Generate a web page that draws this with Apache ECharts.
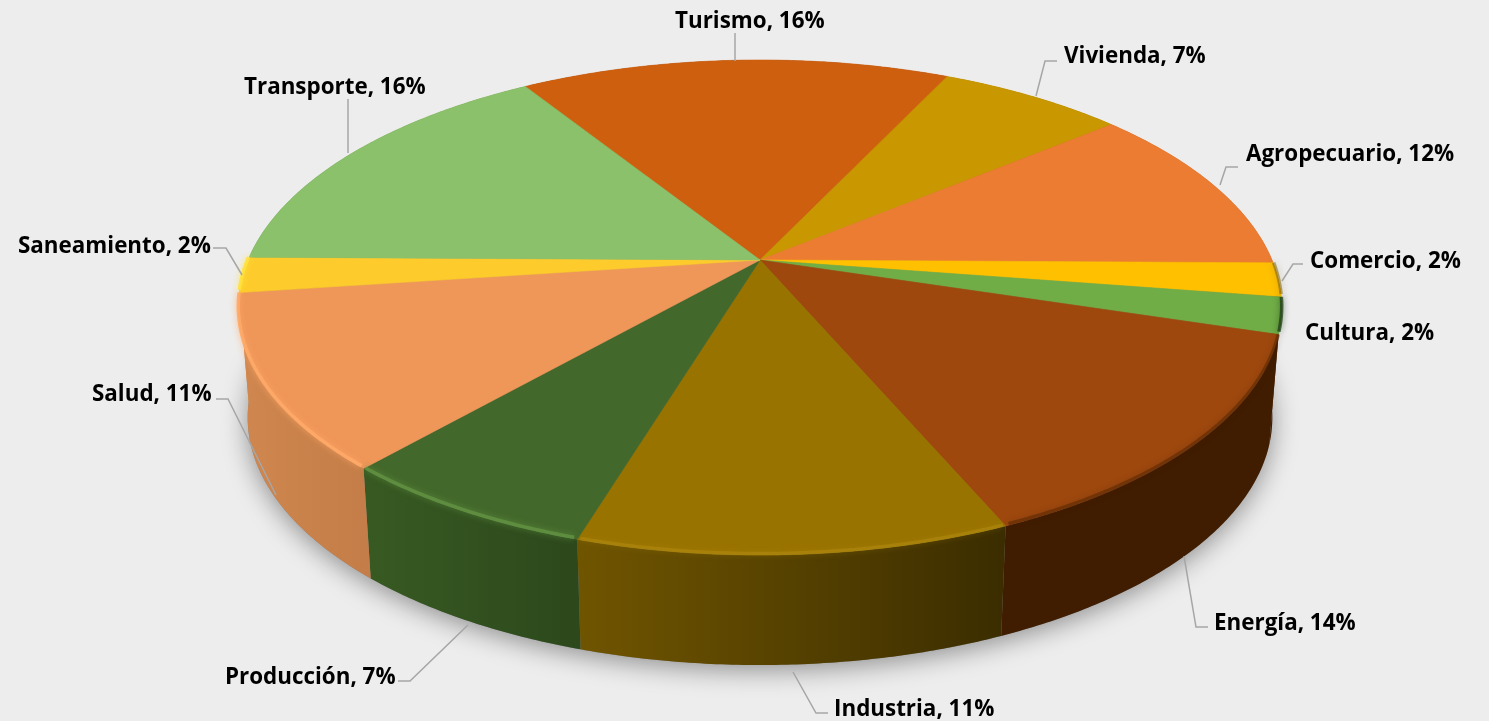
<!DOCTYPE html>
<html lang="es">
<head>
    <meta charset="utf-8">
    <title>ECharts</title>
    <script src="https://cdn.jsdelivr.net/npm/echarts@6/dist/echarts.min.js"></script>
    <style>
        html, body { margin: 0; padding: 0; background: #ededed; }
    </style>
</head>
<body>
<div id="main" style="width: 1489px;height:721px;"></div>
<script type="text/javascript">
    // datos, en sentido horario desde Turismo
    var categories = ['Turismo', 'Vivienda', 'Agropecuario', 'Comercio', 'Cultura', 'Energía', 'Industria', 'Producción', 'Salud', 'Saneamiento', 'Transporte'];
    // porcentaje que se lee en cada etiqueta
    var labelValues = [16, 7, 12, 2, 2, 14, 11, 7, 11, 2, 16];
    // porcentaje sin redondear, estimado del tamaño de cada porción
    var values = [16.0, 6.94, 11.19, 2.22, 2.36, 13.77, 11.17, 6.83, 11.34, 2.31, 15.87];

    // colores
    var topColors = ['#ce5f0f', '#c99700', '#eb7c32', '#ffc000', '#70ad47', '#9e480e', '#997300', '#43682b', '#ef9659', '#fdcc2c', '#8bc16a'];
    var sideLeft = ['#8a3f0a', '#886600', '#a05420', '#401c00', '#401c00', '#401c00', '#705500', '#385a22', '#d0874f', '#d0874f', '#5f8548'];
    var sideRight = ['#8a3f0a', '#886600', '#a05420', '#401c00', '#401c00', '#401c00', '#3b2d00', '#2c481c', '#c47d48', '#d0874f', '#5f8548'];
    var rimColors = [null, null, null, 'rgba(120,90,0,0.5)', 'rgba(30,60,20,0.75)', 'rgba(70,30,0,0.45)', 'rgba(176,138,16,0.55)', 'rgba(98,146,66,0.85)', 'rgba(255,170,105,0.9)', 'rgba(255,225,60,0.9)', null];

    // etiquetas y sus guías
    var labelPos = [[675, 21.5], [1064, 56.5], [1246, 154.5], [1310, 261.5], [1305, 333.5], [1214, 623.5], [834, 709.5], [225, 677.5], [92, 394.5], [18, 246.5], [244, 87.5]];
    var leaders = [
        [[735, 33], [735, 61]],
        [[1057, 61], [1045, 61], [1036, 96]],
        [[1238, 167], [1226, 167], [1220, 185]],
        [[1303, 264], [1293, 264], [1282, 281]],
        null,
        [[1208, 627], [1196, 627], [1184, 556]],
        [[828, 713], [816, 713], [793, 672]],
        [[398, 681], [410, 681], [468, 625]],
        [[216, 399], [228, 399], [276, 495]],
        [[213, 248], [226, 248], [242, 275]],
        [[348, 99], [348, 153]]
    ];

    // geometría de la perspectiva
    var cx = 760, cy = 260, ax = 512, ay = 238.4, persp = 0.192;
    var startAngle = -32.2, depth = 110, bottomScale = 0.982;

    function project(deg, bottom) {
        var r = deg * Math.PI / 180;
        var s = 1 / (1 + persp * Math.cos(r));
        var x = ax * Math.sin(r) * s;
        var y = -ay * Math.cos(r) * s;
        if (bottom) {
            return [cx + x * bottomScale, cy + y + depth];
        }
        return [cx + x, cy + y];
    }

    function rimPoints(a0, a1, bottom) {
        var pts = [];
        var n = Math.max(2, Math.ceil(Math.abs(a1 - a0) * 2));
        for (var i = 0; i <= n; i++) {
            pts.push(project(a0 + (a1 - a0) * i / n, bottom));
        }
        return pts;
    }

    // [inicio, fin] de cada porción
    var total = values.reduce(function (a, b) { return a + b; }, 0);
    var acc = startAngle;
    var sliceData = values.map(function (v, i) {
        var a0 = acc;
        acc += v / total * 360;
        return [a0, acc, i];
    });

    function renderShadow() {
        return {
            type: 'polygon',
            shape: { points: rimPoints(0, 360, true) },
            style: { fill: '#888', shadowBlur: 26, shadowColor: 'rgba(0,0,0,0.4)', shadowOffsetY: 5 }
        };
    }

    function renderSide(params, api) {
        var a0 = api.value(0), a1 = api.value(1), i = api.value(2);
        var top = rimPoints(a0, a1, false);
        var bot = rimPoints(a0, a1, true).reverse();
        return {
            type: 'polygon',
            shape: { points: top.concat(bot) },
            style: {
                fill: new echarts.graphic.LinearGradient(0, 0, 1, 0, [
                    { offset: 0, color: sideLeft[i] },
                    { offset: 1, color: sideRight[i] }
                ])
            }
        };
    }

    function renderTop(params, api) {
        var a0 = api.value(0), a1 = api.value(1), i = api.value(2);
        return {
            type: 'polygon',
            shape: { points: [[cx, cy]].concat(rimPoints(a0, a1, false)) },
            style: { fill: topColors[i], stroke: topColors[i], lineWidth: 0.6 }
        };
    }

    function renderRim(params, api) {
        var a0 = api.value(0), a1 = api.value(1), i = api.value(2);
        if (!rimColors[i]) {
            return null;
        }
        // el brillo del borde queda un poco dentro de la cara superior
        var pts = rimPoints(a0 + 0.3, a1 - 0.3, false).map(function (p) {
            return [p[0], p[1] - 1.5];
        });
        return {
            type: 'polyline',
            shape: { points: pts },
            style: { fill: null, stroke: rimColors[i], lineWidth: 3.5, shadowBlur: 6, shadowColor: rimColors[i] }
        };
    }

    function renderLabel(params, api) {
        var i = api.value(2);
        var children = [{
            type: 'text',
            style: {
                text: categories[i] + ', ' + labelValues[i] + '%',
                x: labelPos[i][0],
                y: labelPos[i][1],
                fill: '#000',
                font: 'bold 22.4px "Open Sans"',
                verticalAlign: 'middle'
            }
        }];
        if (leaders[i]) {
            children.push({
                type: 'polyline',
                shape: { points: leaders[i] },
                style: { fill: null, stroke: '#a6a6a6', lineWidth: 1.5 }
            });
        }
        return { type: 'group', children: children };
    }

    function layer(fn, data) {
        return {
            type: 'custom',
            coordinateSystem: 'none',
            renderItem: fn,
            data: data,
            animation: false,
            silent: true,
            clip: false
        };
    }

    var myChart = echarts.init(document.getElementById('main'));

    var option = {
        backgroundColor: '#ededed',
        animation: false,
        series: [
            layer(renderShadow, [[0]]),
            layer(renderSide, sliceData),
            layer(renderTop, sliceData),
            layer(renderRim, sliceData),
            layer(renderLabel, sliceData)
        ]
    };
    myChart.setOption(option);
</script>
</body>
</html>
